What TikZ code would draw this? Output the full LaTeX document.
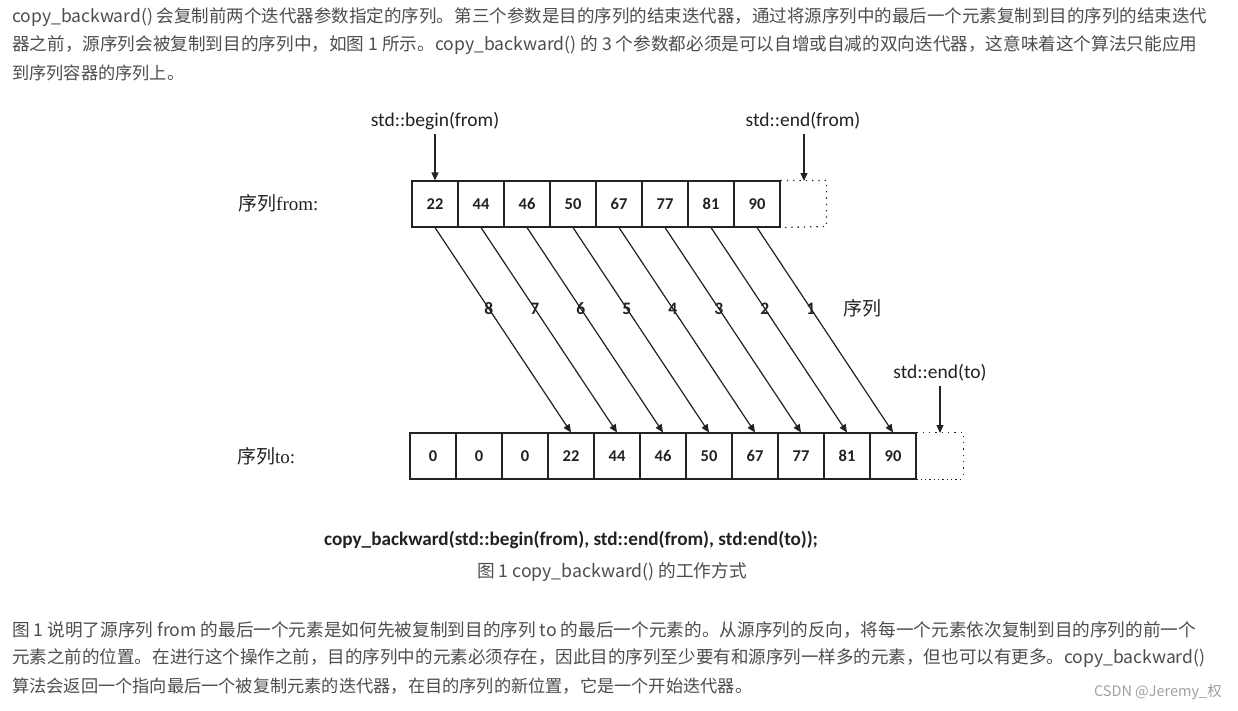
\documentclass[tikz,border=0pt]{standalone}
\usepackage{fontspec}
\usepackage{graphicx}
\setmainfont{Noto Sans CJK SC}
\newfontfamily\cjk{Noto Sans CJK SC}
\newfontfamily\calfont{Carlito}
\newfontfamily\serfont{Liberation Serif}
\usetikzlibrary{arrows.meta}
\definecolor{txt}{HTML}{4D4D4D}
\definecolor{ink}{HTML}{222222}
\definecolor{wm}{HTML}{A0A0A0}
\tikzset{
  para/.style={anchor=west, inner sep=0pt, text=txt, font=\cjk\fontsize{17.2}{20}\selectfont},
  cell/.style={draw=ink, line width=1.1pt, minimum width=46pt, minimum height=46pt, inner sep=0pt, text=ink, font=\calfont\bfseries\fontsize{16.5}{18}\selectfont},
  lbl/.style={inner sep=1pt, text=ink, font=\calfont\fontsize{19.5}{22}\selectfont},
  seqlbl/.style={anchor=west, inner sep=0pt, text=ink, font=\fontsize{19}{22}\selectfont},
  copyarrow/.style={draw=ink, line width=1.2pt, -{Triangle[length=8pt,width=7pt]}},
  dotbox/.style={draw=ink, line width=1.3pt, dash pattern=on 1.3pt off 5pt},
  num/.style={inner sep=0pt, text=ink, font=\calfont\bfseries\fontsize{17.5}{20}\selectfont}
}
\newcommand{\fitw}[2]{\resizebox{#1pt}{!}{#2}}
\begin{document}
\begin{tikzpicture}[x=1pt,y=-1pt]
\useasboundingbox[fill=white] (0,0) rectangle (1238,710);
% top paragraph
\node[para] (p1) at (12,17) {\fitw{1195}{copy\_backward() 会复制前两个迭代器参数指定的序列。第三个参数是目的序列的结束迭代器，通过将源序列中的最后一个元素复制到目的序列的结束迭代}};
\node[para] (p2) at (12,45) {\fitw{1185}{器之前，源序列会被复制到目的序列中，如图 1 所示。copy\_backward() 的 3 个参数都必须是可以自增或自减的双向迭代器，这意味着这个算法只能应用}};
\node[para] (p3) at (12,73) {到序列容器的序列上。};
% labels
\node[seqlbl] (sf) at (238,203) {{\cjk 序列}{\serfont from:}};
\node[seqlbl] (st) at (237,456) {{\cjk 序列}{\serfont to:}};
% cells
\foreach \v [count=\i] in {22,44,46,50,67,77,81,90}
  \node[cell] (f\i) at ({435+46*(\i-1)},204) {\v};
\foreach \v [count=\i] in {0,0,0,22,44,46,50,67,77,81,90}
  \node[cell] (t\i) at ({433+46*(\i-1)},456) {\v};
% dotted boxes
\draw[dotbox] (f8.north east) -- ++(46,0) -- ++(0,46) -- (f8.south east);
\draw[dotbox] (t11.north east) -- ++(47,0) -- ++(0,46);
\draw[draw=ink, line width=1.3pt, dash pattern=on 1.3pt off 3pt] (t11.south east) -- ++(47,0);
% iterator labels
\node[lbl] (lb) at (435,121) {std::begin(from)};
\node[lbl] (le) at (803,121) {std::end(from)};
\node[lbl] (lt) at (940,373) {std::end(to)};
\coordinate (fend) at (804,181);
\coordinate (tend) at (940,433);
\draw[copyarrow] (lb.south) ++(0,3) -- (f1.north);
\draw[copyarrow] (le.south) ++(1,3) -- (fend);
\draw[copyarrow] (lt.south) ++(0,3) -- (tend);
% copy arrows
\foreach \i in {1,...,8} {
  \pgfmathtruncatemacro{\j}{\i+3}
  \pgfmathtruncatemacro{\n}{9-\i}
  \draw[copyarrow] (f\i.south) -- node[num, pos=0.395] {\n} (t\j.north);
}
\node[inner sep=0pt, text=ink, font=\cjk\fontsize{19}{22}\selectfont] (seq) at (862,308) {序列};
% code line and caption
\node[inner sep=0pt, text=ink, font=\calfont\bfseries\fontsize{19.2}{22}\selectfont] (code) at (571,540) {copy\_backward(std::begin(from), std::end(from), std:end(to));};
\node[inner sep=0pt, text=txt, font=\cjk\fontsize{16.5}{20}\selectfont] (cap) at (612,572) {\fitw{270}{图 1 copy\_backward() 的工作方式}};
% bottom paragraph
\node[para] (q1) at (12,630) {\fitw{1184}{图 1 说明了源序列 from 的最后一个元素是如何先被复制到目的序列 to 的最后一个元素的。从源序列的反向，将每一个元素依次复制到目的序列的前一个}};
\node[para] (q2) at (12,658) {\fitw{1193}{元素之前的位置。在进行这个操作之前，目的序列中的元素必须存在，因此目的序列至少要有和源序列一样多的元素，但也可以有更多。copy\_backward()}};
\node[para] (q3) at (12,686) {\fitw{740}{算法会返回一个指向最后一个被复制元素的迭代器，在目的序列的新位置，它是一个开始迭代器。}};
\node[anchor=east, inner sep=0pt, text=wm, font=\fontsize{14.5}{18}\selectfont] (wmk) at (1222,692) {CSDN @Jeremy\_权};
\end{tikzpicture}
\end{document}
